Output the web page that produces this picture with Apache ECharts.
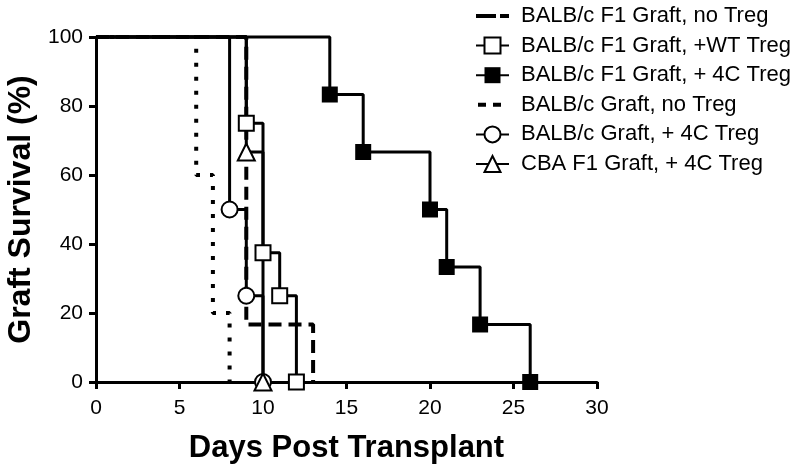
<!DOCTYPE html>
<html><head><meta charset="utf-8">
<script src="https://cdn.jsdelivr.net/npm/echarts@6/dist/echarts.min.js"></script>
<style>html,body{margin:0;padding:0;background:#fff}#c{width:800px;height:470px}</style>
</head><body><div id="c"></div>
<script>
// Kaplan-Meier step data: days and % survival at each step
const seriesNames = [
  'BALB/c F1 Graft, no Treg',
  'BALB/c F1 Graft, +WT Treg',
  'BALB/c F1 Graft, + 4C Treg',
  'BALB/c Graft, no Treg',
  'BALB/c Graft, + 4C Treg',
  'CBA F1 Graft, + 4C Treg'
];
const f1NoTregDays = [0, 9, 13];
const f1NoTregSurv = [100, 16.67, 0];
const f1WTDays = [0, 9, 10, 11, 12];
const f1WTSurv = [100, 75, 37.5, 25, 0];
const f14CDays = [0, 14, 16, 20, 21, 23, 26];
const f14CSurv = [100, 83.33, 66.67, 50, 33.33, 16.67, 0];
const balbNoTregDays = [0, 6, 7, 8];
const balbNoTregSurv = [100, 60, 20, 0];
const balb4CDays = [0, 8, 9, 10];
const balb4CSurv = [100, 50, 25, 0];
const cba4CDays = [0, 9, 10];
const cba4CSurv = [100, 66.67, 0];
const xTicks = [0, 5, 10, 15, 20, 25, 30];
const yTicks = [0, 20, 40, 60, 80, 100];

const FONT = 'Liberation Sans, Arial, Helvetica, sans-serif';
function pts(days, surv) {
  return days.map((d, i) => i === 0 ? { value: [d, surv[i]], symbol: 'none' } : [d, surv[i]]);
}
function mk(name, days, surv, opts) {
  return Object.assign({
    name, type: 'line', step: 'end', data: pts(days, surv), clip: false,
    showSymbol: true, animation: false,
    lineStyle: { color: '#000', width: 3 },
    itemStyle: { color: '#000', borderColor: '#000', borderWidth: 2 },
    emphasis: { disabled: true }
  }, opts);
}
const series = [
  mk(seriesNames[0], f1NoTregDays, f1NoTregSurv, { symbol: 'none', lineStyle: { color: '#000', width: 4, type: [13, 7] }, itemStyle: { color: '#000', borderWidth: 0 } }),
  mk(seriesNames[1], f1WTDays, f1WTSurv, { symbol: 'rect', symbolSize: 15, itemStyle: { color: '#fff', borderColor: '#000', borderWidth: 2 } }),
  mk(seriesNames[2], f14CDays, f14CSurv, { symbol: 'rect', symbolSize: 16, itemStyle: { color: '#000', borderColor: '#000', borderWidth: 0 } }),
  mk(seriesNames[3], balbNoTregDays, balbNoTregSurv, { symbol: 'none', lineStyle: { color: '#000', width: 4, type: [4, 10] }, itemStyle: { color: '#000', borderWidth: 0 } }),
  mk(seriesNames[4], balb4CDays, balb4CSurv, { symbol: 'circle', symbolSize: 16, itemStyle: { color: '#fff', borderColor: '#000', borderWidth: 2 } }),
  mk(seriesNames[5], cba4CDays, cba4CSurv, { symbol: 'triangle', symbolSize: 17, itemStyle: { color: '#fff', borderColor: '#000', borderWidth: 2 } })
];

const legendData = seriesNames.map((n, i) => {
  if (i === 0) return { name: n, icon: 'path://M0,0M33,20M0,8h20v4h-20zM24,8h9v4h-9z', itemStyle: { color: '#000', borderWidth: 0 } };
  if (i === 3) return { name: n, icon: 'path://M0,0M33,20M2,8h8v4h-8zM17,8h8v4h-8z', itemStyle: { color: '#000', borderWidth: 0 } };
  return { name: n };
});

const chart = echarts.init(document.getElementById('c'), null, { renderer: 'canvas' });
chart.setOption({
  backgroundColor: '#fff',
  animation: false,
  grid: { left: 96, right: 203, top: 37, bottom: 88, outerBoundsMode: 'none', containLabel: false },
  legend: {
    orient: 'vertical', left: 475, top: 5, padding: 0, itemWidth: 33, itemHeight: 20, itemGap: 7.6,
    textStyle: { fontFamily: FONT, fontSize: 22, color: '#000', lineHeight: 22, padding: [0, 0, 0, 7] },
    data: legendData, selectedMode: false
  },
  xAxis: {
    type: 'value', min: xTicks[0], max: xTicks[xTicks.length - 1], interval: 5,
    name: 'Days Post Transplant', nameLocation: 'middle', nameGap: 51,
    nameTextStyle: { fontFamily: FONT, fontSize: 31, fontWeight: 'bold', color: '#000' },
    axisLine: { show: true, lineStyle: { color: '#000', width: 3 } },
    axisTick: { show: true, length: 7, lineStyle: { color: '#000', width: 3 } },
    axisLabel: { fontFamily: FONT, fontSize: 21, color: '#000', margin: 16 },
    splitLine: { show: false }
  },
  yAxis: {
    type: 'value', min: yTicks[0], max: yTicks[yTicks.length - 1], interval: 20,
    name: 'Graft Survival (%)', nameLocation: 'middle', nameGap: 52,
    nameTextStyle: { fontFamily: FONT, fontSize: 32, fontWeight: 'bold', color: '#000' },
    axisLine: { show: true, lineStyle: { color: '#000', width: 3 } },
    axisTick: { show: true, length: 7, lineStyle: { color: '#000', width: 3 } },
    axisLabel: { fontFamily: FONT, fontSize: 21, color: '#000', margin: 13 },
    splitLine: { show: false }
  },
  series
});
</script></body></html>
